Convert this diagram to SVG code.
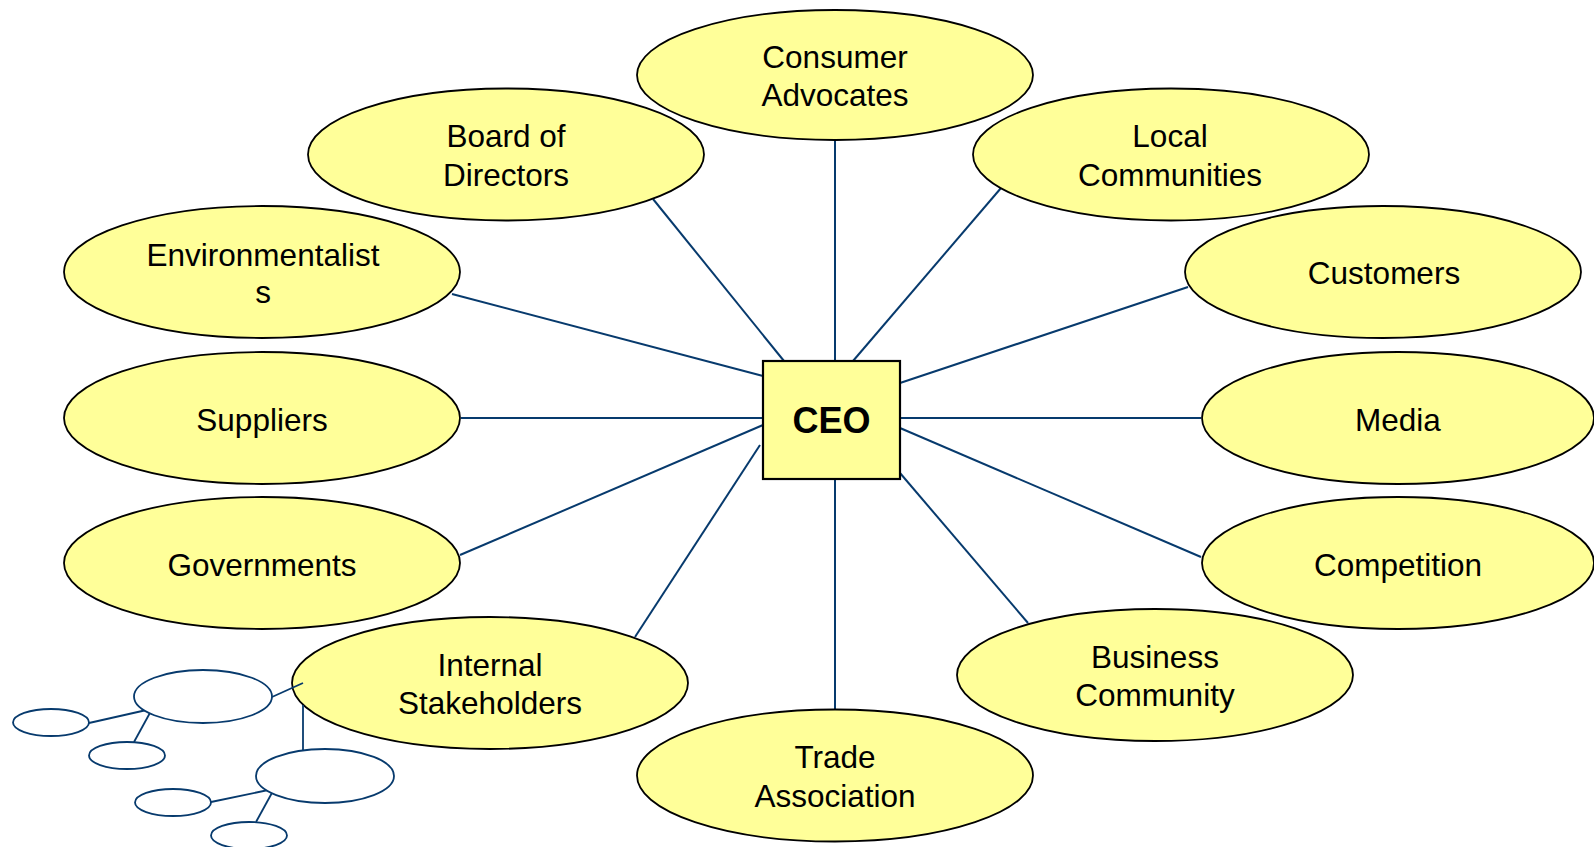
<svg xmlns="http://www.w3.org/2000/svg" width="1594" height="847" viewBox="0 0 1594 847">
<style>
.bg{fill:#ffffff}
.node ellipse{fill:#FFFF99;stroke:#000000;stroke-width:1.8}
.node text{font-family:"Liberation Sans",Arial,sans-serif;font-size:31.5px;fill:#000000;text-anchor:middle}
.conn line{stroke:#073A6D;stroke-width:2}
.mini ellipse{fill:#ffffff;stroke:#073A6D;stroke-width:1.8}
.mini line{stroke:#073A6D;stroke-width:1.8}
#ceo rect{fill:#FFFF99;stroke:#000000;stroke-width:2.2}
#ceo text{font-family:"Liberation Sans",Arial,sans-serif;font-size:36px;font-weight:bold;fill:#000000;text-anchor:middle}
</style>
<rect class="bg" x="0" y="0" width="1594" height="847"/>
<g id="connectors" class="conn">
<line x1="835" y1="141" x2="835" y2="361"/>
<line x1="653" y1="199" x2="784" y2="361"/>
<line x1="1001" y1="188" x2="853" y2="361"/>
<line x1="1188" y1="287" x2="900" y2="383"/>
<line x1="452" y1="294" x2="763" y2="376"/>
<line x1="461" y1="418" x2="763" y2="418"/>
<line x1="900" y1="418" x2="1201" y2="418"/>
<line x1="460" y1="555" x2="763" y2="425"/>
<line x1="635" y1="637" x2="760" y2="445"/>
<line x1="835" y1="479" x2="835" y2="709"/>
<line x1="900" y1="473" x2="1028" y2="623"/>
<line x1="900" y1="428" x2="1201" y2="557"/>
</g>
<g id="consumer-advocates" class="node">
<ellipse cx="835" cy="75" rx="198" ry="65"/>
<text x="835" y="68">Consumer</text>
<text x="835" y="106">Advocates</text>
</g>
<g id="board-of-directors" class="node">
<ellipse cx="506" cy="154.5" rx="198" ry="66"/>
<text x="506" y="147">Board of</text>
<text x="506" y="185.5">Directors</text>
</g>
<g id="local-communities" class="node">
<ellipse cx="1171" cy="154.5" rx="198" ry="66"/>
<text x="1170" y="147">Local</text>
<text x="1170" y="185.5">Communities</text>
</g>
<g id="environmentalists" class="node">
<ellipse cx="262" cy="272" rx="198" ry="66"/>
<text x="263" y="265.5">Environmentalist</text>
<text x="263" y="303">s</text>
</g>
<g id="customers" class="node">
<ellipse cx="1383" cy="272" rx="198" ry="66"/>
<text x="1384" y="284">Customers</text>
</g>
<g id="suppliers" class="node">
<ellipse cx="262" cy="418" rx="198" ry="66"/>
<text x="262" y="430.5">Suppliers</text>
</g>
<g id="media" class="node">
<ellipse cx="1398" cy="418" rx="196" ry="66"/>
<text x="1398" y="430.5">Media</text>
</g>
<g id="governments" class="node">
<ellipse cx="262" cy="563" rx="198" ry="66"/>
<text x="262" y="575.5">Governments</text>
</g>
<g id="competition" class="node">
<ellipse cx="1398" cy="563" rx="196" ry="66"/>
<text x="1398" y="575.5">Competition</text>
</g>
<g id="internal-stakeholders" class="node">
<ellipse cx="490" cy="683" rx="198" ry="66"/>
<text x="490" y="676">Internal</text>
<text x="490" y="714">Stakeholders</text>
</g>
<g id="business-community" class="node">
<ellipse cx="1155" cy="675" rx="198" ry="66"/>
<text x="1155" y="668">Business</text>
<text x="1155" y="706">Community</text>
</g>
<g id="trade-association" class="node">
<ellipse cx="835" cy="775.5" rx="198" ry="66"/>
<text x="835" y="768">Trade</text>
<text x="835" y="806.5">Association</text>
</g>
<g id="ceo">
<rect x="763" y="361" width="137" height="118"/>
<text x="831.5" y="433">CEO</text>
</g>
<g id="internal-structure" class="mini">
<line x1="272" y1="697" x2="303" y2="683"/>
<line x1="303" y1="705" x2="303" y2="750"/>
<line x1="89" y1="723" x2="151" y2="709"/>
<line x1="151" y1="711" x2="134" y2="742"/>
<line x1="211" y1="802" x2="273" y2="789"/>
<line x1="273" y1="791" x2="256" y2="822"/>
<ellipse cx="203" cy="696.5" rx="69" ry="26.5"/>
<ellipse cx="51" cy="722.5" rx="38" ry="13.5"/>
<ellipse cx="127" cy="755.5" rx="38" ry="13.5"/>
<ellipse cx="325" cy="776" rx="69" ry="27"/>
<ellipse cx="173" cy="802.5" rx="38" ry="13.5"/>
<ellipse cx="249" cy="835.5" rx="38" ry="13.5"/>
</g>
</svg>
